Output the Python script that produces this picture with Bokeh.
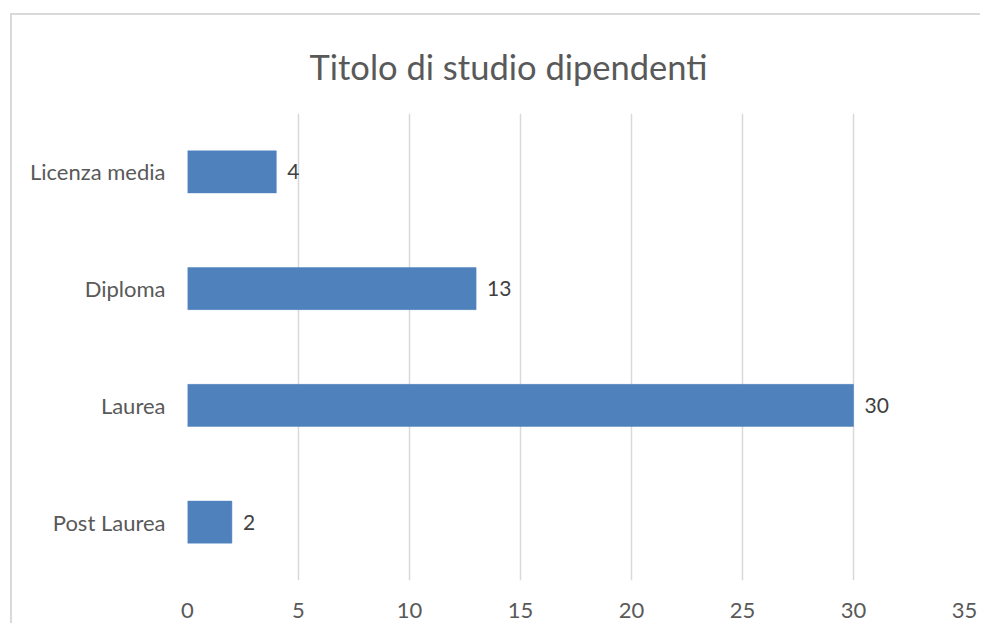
from bokeh.plotting import figure
from bokeh.models import ColumnDataSource, Range1d, FactorRange, FixedTicker
from bokeh.core.properties import value
from bokeh.embed import file_html
from bokeh.resources import INLINE

title_text = "Titolo di studio dipendenti"
categories = ["Licenza media", "Diploma", "Laurea", "Post Laurea"]
counts = [4, 13, 30, 2]
x_ticks = [0, 5, 10, 15, 20, 25, 30, 35]

FONT = "Lato"
BAR = "#4F81BD"

src = ColumnDataSource(dict(cat=categories, n=counts, lab=[str(v) for v in counts]))

p = figure(
    width=970, height=610,
    y_range=FactorRange(*reversed(categories), range_padding=0),
    x_range=Range1d(0, 35),
    output_backend="svg", toolbar_location=None,
    min_border_left=175, min_border_right=18, min_border_top=98, min_border_bottom=45,
)
p.styles = {"margin-left": "10px", "margin-top": "13px",
            "border-left": "2px solid #d9d9d9", "border-top": "2px solid #d9d9d9"}
p.outline_line_color = None
p.background_fill_color = "white"
p.border_fill_color = "white"

p.title.text = title_text
p.title.align = "left"
p.title.offset = 122
p.title.standoff = 53
p.title.text_font = FONT
p.title.text_font_size = "34.5px"
p.title.text_font_style = "normal"
p.title.text_color = "#595959"

p.hbar(y="cat", right="n", left=0, height=0.36, source=src,
       fill_color=BAR, line_color=BAR, line_width=0.5)

p.text(x="n", y="cat", text="lab", source=src, x_offset=11,
       text_align="left", text_baseline="middle",
       text_font=value(FONT), text_font_size="21px", text_color="#404040")

p.xgrid.ticker = FixedTicker(ticks=x_ticks)
p.xgrid.grid_line_color = "#d9d9d9"
p.xgrid.grid_line_width = 1.5
p.ygrid.grid_line_color = None

p.xaxis.ticker = FixedTicker(ticks=x_ticks)
p.xaxis.axis_line_color = None
p.xaxis.major_tick_line_color = None
p.xaxis.minor_tick_line_color = None
p.xaxis.major_tick_out = 0
p.xaxis.major_label_standoff = 22
p.xaxis.major_label_text_font = FONT
p.xaxis.major_label_text_font_size = "22px"
p.xaxis.major_label_text_color = "#595959"

p.yaxis.axis_line_color = None
p.yaxis.major_tick_line_color = None
p.yaxis.major_tick_out = 0
p.yaxis.major_label_standoff = 22
p.yaxis.major_label_text_font = FONT
p.yaxis.major_label_text_font_size = "22px"
p.yaxis.major_label_text_color = "#595959"

open("out.html", "w").write(file_html(p, INLINE))
